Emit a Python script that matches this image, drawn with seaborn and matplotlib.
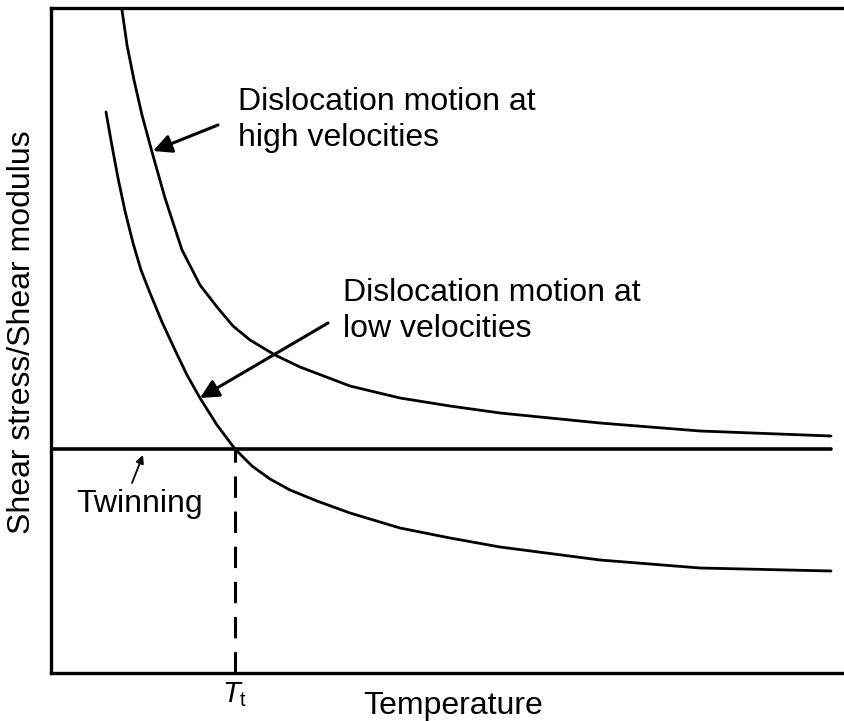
import numpy as np
import pandas as pd
import matplotlib
matplotlib.use("Agg")
import matplotlib.pyplot as plt
import seaborn as sns

# curve points (arbitrary units: temperature 0-793, stress 0-665)
high_T = [71, 76, 83, 91, 101, 114, 131, 149, 166, 182, 199, 224, 249, 299,
          349, 399, 449, 499, 549, 649, 780]
high_s = [663, 628, 593, 558, 521, 475, 423, 388, 366, 347, 333, 318, 306, 287,
          275, 267, 260, 255, 250, 242, 237]

low_T = [55, 61, 67, 74, 82, 90, 99, 111, 124, 136, 149, 166, 184, 201, 219,
         239, 266, 299, 349, 399, 449, 549, 649, 780]
low_s = [561, 527, 495, 462, 430, 403, 380, 351, 323, 298, 275, 248, 224, 207, 194,
         183, 172, 160, 145, 135, 126, 113, 105, 102]

twin_level = 224
twin_end = 780
T_t = 184

df = pd.concat([
    pd.DataFrame({"T": high_T, "s": high_s, "curve": "high"}),
    pd.DataFrame({"T": low_T, "s": low_s, "curve": "low"}),
])

sns.set_theme(style="white")
plt.rcParams["font.family"] = ["Liberation Sans", "DejaVu Sans"]
plt.rcParams["mathtext.fontset"] = "custom"
plt.rcParams["mathtext.rm"] = "Liberation Sans"
plt.rcParams["mathtext.it"] = "Liberation Sans:italic"

fig = plt.figure(figsize=(8.44, 7.21), dpi=100)
ax = fig.add_axes([51 / 844, 48 / 721, 793 / 844, 665 / 721])

sns.lineplot(data=df, x="T", y="s", hue="curve", palette={"high": "black", "low": "black"},
             sort=False, legend=False, lw=2, ax=ax)

# twinning stress and transition temperature
ax.plot([0, twin_end], [twin_level, twin_level], color="black", lw=2.6)
ax.plot([T_t, T_t], [0, twin_level], color="black", lw=2.2, linestyle=(0, (7, 4.5)))

ax.set_xlim(0, 793)
ax.set_ylim(0, 665)

for side in ["left", "bottom", "top"]:
    ax.spines[side].set_color("black")
    ax.spines[side].set_linewidth(2.4)
ax.spines["right"].set_visible(False)

ax.set_xticks([T_t])
ax.set_xticklabels([r"$T_{\mathrm{t}}$"], fontsize=21)
ax.set_yticks([])
ax.tick_params(axis="x", length=0, pad=5, colors="black")

ax.set_xlabel("Temperature", fontsize=23, color="black")
ax.xaxis.set_label_coords(0.507, -0.027)
ax.set_ylabel("Shear stress/Shear modulus", fontsize=23, color="black")
ax.yaxis.set_label_coords(-0.0177, 0.513)

txt = dict(fontsize=23, color="black", linespacing=1.25)
ax.text(187, 586, "Dislocation motion at\nhigh velocities", va="top", ha="left", **txt)
ax.text(292, 395, "Dislocation motion at\nlow velocities", va="top", ha="left", **txt)
ax.text(89, 161, "Twinning", va="baseline", ha="center", **txt)

arrow = dict(arrowstyle="-|>", color="black", lw=2.2, mutation_scale=28, shrinkA=0, shrinkB=0)
ax.annotate("", xy=(102, 522), xytext=(167, 548), arrowprops=arrow)
ax.annotate("", xy=(149, 275), xytext=(277, 350), arrowprops=arrow)
ax.annotate("", xy=(92, 218), xytext=(81, 190),
            arrowprops=dict(arrowstyle="-|>", color="black", lw=1.3, mutation_scale=12,
                            shrinkA=0, shrinkB=0))

fig.savefig("out.png", dpi=100)
